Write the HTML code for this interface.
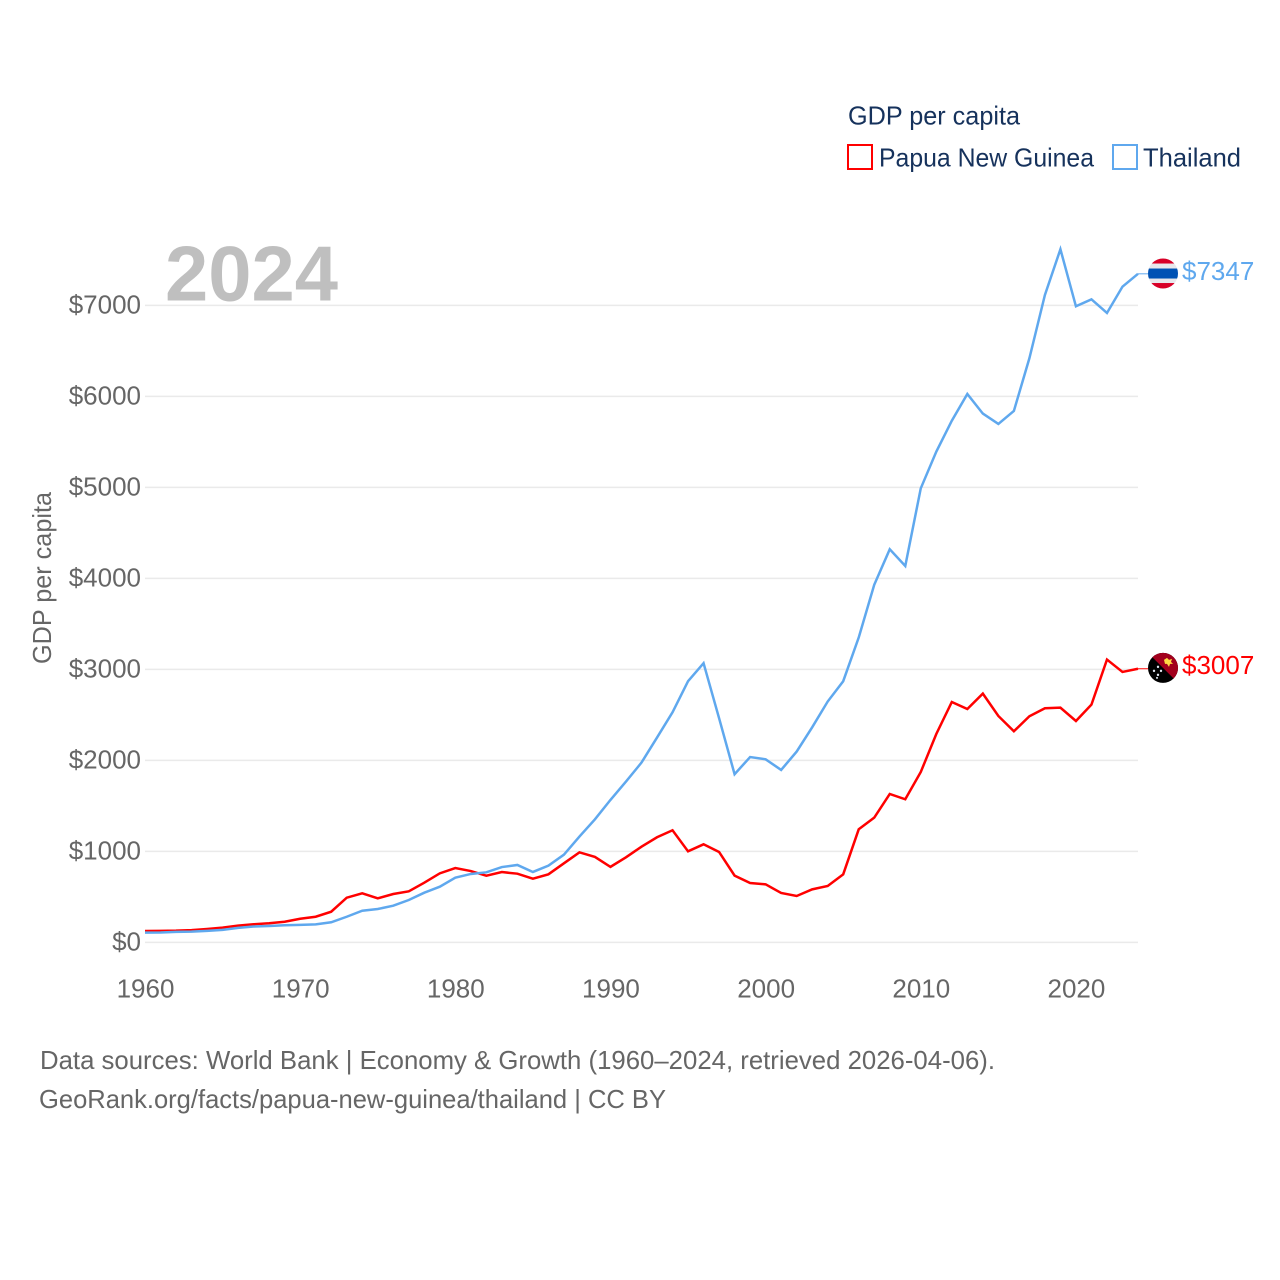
<!DOCTYPE html>
<html lang="en">
<head>
<meta charset="utf-8">
<title>GDP per capita: Papua New Guinea and Thailand</title>
<style>
html,body{margin:0;padding:0;background:#fff;width:1280px;height:1280px;overflow:hidden}
svg{display:block;font-family:"Liberation Sans",sans-serif}
.tick{font-size:26px;fill:#666}
.legend{font-size:26px;fill:#16325c}
.caption{font-size:26px;fill:#666}
</style>
</head>
<body>
<svg id="chart" xmlns="http://www.w3.org/2000/svg" width="1280" height="1280" viewBox="0 0 1280 1280">
  <defs>
    <clipPath id="flag-clip"><circle cx="0" cy="0" r="15"></circle></clipPath>
  </defs>
  <rect x="0" y="0" width="1280" height="1280" fill="#fff"></rect>

  <g id="grid"></g>
  <g id="y-ticks"></g>
  <g id="x-ticks"></g>

  <text x="165" y="300.5" font-size="78" font-weight="700" fill="#bfbfbf" textLength="173" lengthAdjust="spacingAndGlyphs">2024</text>

  <text class="tick" transform="translate(51,664) rotate(-90)" textLength="172" lengthAdjust="spacingAndGlyphs">GDP per capita</text>

  <g id="series"></g>

  <g id="flag-thailand">
    <g clip-path="url(#flag-clip)">
      <rect x="-16" y="-16" width="32" height="32" fill="#e8e8ec"></rect>
      <rect x="-16" y="-16" width="32" height="6" fill="#d80027"></rect>
      <rect x="-16" y="9.5" width="32" height="6.5" fill="#d80027"></rect>
      <rect x="-16" y="-5" width="32" height="10" fill="#0052b4"></rect>
    </g>
  </g>
  <g id="flag-png">
    <g clip-path="url(#flag-clip)">
      <rect x="-16" y="-16" width="32" height="32" fill="#000"></rect>
      <polygon points="-16,-16 16,-16 16,16" fill="#a2001d"></polygon>
      <path d="M1,-8 L4,-10 L6,-8 L9,-9 L8,-6 L10,-4 L7,-4 L6,-1 L4,-4 L2,-4 Z" fill="#ffda44"></path>
      <circle cx="-5" cy="-1" r="1.2" fill="#dfe6f0"></circle>
      <circle cx="-9" cy="3" r="1.2" fill="#dfe6f0"></circle>
      <circle cx="-2" cy="3" r="1.2" fill="#dfe6f0"></circle>
      <circle cx="-5" cy="7" r="1.2" fill="#dfe6f0"></circle>
      <circle cx="-6" cy="10" r="1" fill="#dfe6f0"></circle>
    </g>
  </g>

  <g id="end-labels"></g>

  <g>
    <text class="legend" x="848" y="124.5" textLength="172" lengthAdjust="spacingAndGlyphs">GDP per capita</text>
    <g>
      <rect x="848" y="145" width="24" height="24" fill="#fff" stroke="#ff0000" stroke-width="2"></rect>
      <text class="legend" x="879" y="166.5" textLength="215" lengthAdjust="spacingAndGlyphs">Papua New Guinea</text>
    </g>
    <g>
      <rect x="1113" y="145" width="24" height="24" fill="#fff" stroke="#5fa8ee" stroke-width="2"></rect>
      <text class="legend" x="1143" y="166.5" textLength="98" lengthAdjust="spacingAndGlyphs">Thailand</text>
    </g>
  </g>

  <text class="caption" x="40" y="1069" textLength="955" lengthAdjust="spacingAndGlyphs">Data sources: World Bank | Economy &amp; Growth (1960–2024, retrieved 2026-04-06).</text>
  <text class="caption" x="39" y="1108" textLength="627" lengthAdjust="spacingAndGlyphs">GeoRank.org/facts/papua-new-guinea/thailand | CC BY</text>
</svg>

<script>
const startYear = 1960;
const endYear = 2024;
const yTickValues = [0, 1000, 2000, 3000, 4000, 5000, 6000, 7000];
const xTickYears = [1960, 1970, 1980, 1990, 2000, 2010, 2020];

const papuaNewGuinea = [
  125, 127, 129, 135, 147, 162, 184, 199, 210, 227,
  260, 282, 337, 491, 539, 484, 532, 561, 656, 759,
  817, 784, 733, 773, 755, 700, 748, 869, 990, 939,
  830, 935, 1052, 1155, 1232, 1001, 1078, 994, 734, 653,
  638, 543, 510, 583, 620, 748, 1243, 1371, 1631, 1573,
  1873, 2290, 2642, 2565, 2734, 2488, 2320, 2485, 2573, 2580,
  2433, 2613, 3108, 2972, 3007
];

const thailand = [
  107, 109, 116, 119, 127, 138, 160, 175, 180, 188,
  192, 198, 221, 282, 348, 367, 403, 466, 546, 612,
  711, 752, 770, 828, 851, 774, 843, 964, 1163, 1353,
  1566, 1767, 1976, 2251, 2529, 2870, 3068, 2464, 1848, 2037,
  2012, 1895, 2097, 2364, 2647, 2870, 3350, 3930, 4320, 4136,
  4990, 5393, 5733, 6027, 5811, 5697, 5840, 6419, 7115, 7617,
  6990, 7067, 6917, 7206, 7347
];

const NS = 'http://www.w3.org/2000/svg';
function xScale(year) { return 145 + (year - startYear) * (993 / (endYear - startYear)); }
function yScale(value) { return 942.4 - value * 0.091; }
function make(tag, attrs, parent, text) {
  const el = document.createElementNS(NS, tag);
  for (const k in attrs) el.setAttribute(k, attrs[k]);
  if (text !== undefined) el.textContent = text;
  parent.appendChild(el);
  return el;
}

const gridGroup = document.getElementById('grid');
const yTickGroup = document.getElementById('y-ticks');
yTickValues.forEach(function (v) {
  const line = make('line', { x1: 145, x2: 1138, y1: yScale(v), y2: yScale(v), stroke: '#eaeaea', 'stroke-width': 1.5 }, gridGroup);
  
  
  const label = make('text', { x: 141, y: yScale(v) + 8.2, 'text-anchor': 'end', class: 'tick' }, yTickGroup, '$' + v);
  
  
});

const xTickGroup = document.getElementById('x-ticks');
xTickYears.forEach(function (yr) {
  const label = make('text', { x: xScale(yr) + 0.5, y: 997.5, 'text-anchor': 'middle', class: 'tick' }, xTickGroup, String(yr));
  
  
});

function pointsFor(values) {
  return values.map(function (v, i) { return xScale(startYear + i).toFixed(2) + ',' + yScale(v).toFixed(2); }).join(' ');
}

const seriesGroup = document.getElementById('series');
const pngLine = make('polyline', { points: pointsFor(papuaNewGuinea), fill: 'none', stroke: '#ff0000', 'stroke-width': 2.5, 'stroke-linejoin': 'miter' }, seriesGroup);


const thaiLine = make('polyline', { points: pointsFor(thailand), fill: 'none', stroke: '#5fa8ee', 'stroke-width': 2.5, 'stroke-linejoin': 'miter' }, seriesGroup);



const pngLast = papuaNewGuinea[papuaNewGuinea.length - 1];
const thaiLast = thailand[thailand.length - 1];
const lastX = xScale(endYear);

const pngLeader = make('line', { x1: lastX, x2: lastX + 10, y1: yScale(pngLast), y2: yScale(pngLast), stroke: '#ff0000', 'stroke-width': 1 }, seriesGroup);


const thaiLeader = make('line', { x1: lastX, x2: lastX + 10, y1: yScale(thaiLast), y2: yScale(thaiLast), stroke: '#5fa8ee', 'stroke-width': 1 }, seriesGroup);



document.getElementById('flag-thailand').setAttribute('transform', 'translate(1163,' + (yScale(thaiLast) - 0.3) + ')');
document.getElementById('flag-png').setAttribute('transform', 'translate(1163,' + (yScale(pngLast) - 0.9) + ')');

const labelGroup = document.getElementById('end-labels');
const thaiLabel = make('text', { x: 1182, y: yScale(thaiLast) + 6.2, 'font-size': 26, fill: '#5fa8ee' }, labelGroup, '$' + thaiLast);


const pngLabel = make('text', { x: 1182, y: yScale(pngLast) + 5, 'font-size': 26, fill: '#ff0000' }, labelGroup, '$' + pngLast);


</script>
</body>
</html>
